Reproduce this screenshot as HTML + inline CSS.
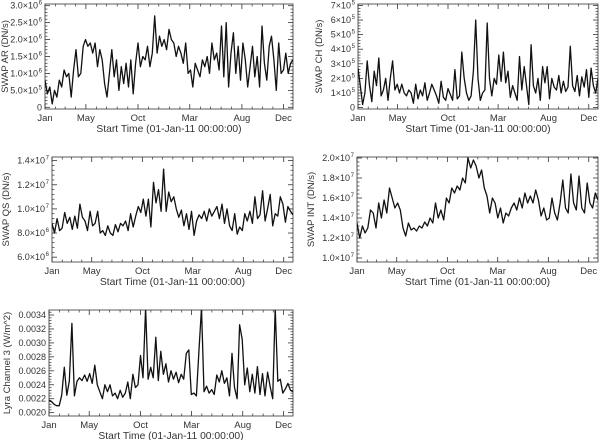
<!DOCTYPE html>
<html><head><meta charset="utf-8">
<style>
html,body{margin:0;padding:0;background:#fff;}
svg{display:block;font-family:"Liberation Sans",sans-serif;}
</style></head>
<body>
<svg id="chart" width="600" height="440" viewBox="0 0 600 440"></svg>
<script>
const xTickDays = [0, 120, 273, 425, 578, 700];
const xTickLabels = ["Jan", "May", "Oct", "Mar", "Aug", "Dec"];
const xMinorDays = [31,59,90,151,181,212,243,304,334,365,396,456,486,517,547,608,639,669];
const dayRange = [0, 728];

const arValues = [0.8,0.4,0.6,0.1,0.5,0.3,0.8,0.6,1.1,0.9,1.0,
0.3,1.1,1.7,0.9,1.0,1.8,2.0,
1.8,1.9,1.6,1.9,1.2,1.7,1.4,0.7,0.3,1.0,1.7,0.9,1.4,
0.5,1.2,0.7,1.3,0.6,1.4,0.4,1.3,
1.9,1.2,1.5,1.4,1.8,1.2,1.6,2.7,1.6,2.1,1.8,2.0,
1.7,2.3,2.0,1.9,1.5,1.8,1.6,1.3,1.9,1.0,
1.1,0.6,1.3,1.1,0.9,1.4,1.2,1.5,1.0,1.9,
1.4,1.6,1.1,2.4,0.9,2.5,0.6,1.6,2.2,1.0,1.8,0.8,
1.9,1.4,0.6,1.2,1.8,0.9,1.5,0.6,2.4,1.3,0.8,1.8,2.1,1.4,0.5,1.9,1.0,
1.1,1.6,1.0,1.3,1.4];
const chValues = [2.7,1.5,0.2,1.0,3.2,1.5,0.4,2.5,1.5,3.4,0.8,
1.2,2.0,0.5,2.0,3.2,1.2,1.6,1.0,1.6,1.0,
0.8,1.2,1.0,0.3,1.6,0.6,1.2,0.8,1.7,0.5,
1.0,1.6,1.2,0.8,0.3,1.8,0.7,0.5,1.3,0.9,
0.5,2.6,0.6,0.8,3.8,2.0,1.0,0.5,0.8,2.5,
6.0,2.0,0.5,1.0,1.2,5.8,2.0,0.8,2.0,1.6,
3.6,1.8,3.8,1.7,2.5,0.7,1.5,1.0,0.5,3.5,
1.2,2.8,1.5,0.2,4.3,1.5,1.0,2.0,0.5,2.8,
1.7,2.8,0.6,2.0,1.4,1.2,2.2,1.0,1.8,1.1,
1.4,4.2,1.5,1.1,2.2,0.8,2.1,1.4,2.6,0.7,2.7,1.5,1.0,2.0];
const qsValues = [8.8,8.0,9.2,8.2,8.4,9.7,8.8,9.3,8.3,9.4,8.4,
10.4,9.3,9.0,8.2,9.8,8.6,8.8,9.8,8.0,8.2,
7.8,8.6,8.0,7.8,8.7,8.1,8.8,8.6,9.0,8.2,
9.6,8.5,9.4,10.2,9.7,10.8,9.4,10.8,8.5,
12.2,10.5,11.6,9.8,13.3,9.8,11.4,10.6,11.0,10.0,
9.3,9.9,8.6,9.6,8.3,9.8,7.8,9.0,9.5,9.2,
9.8,9.0,10.0,9.4,9.8,10.2,9.2,10.4,8.8,10.0,
8.6,8.2,9.6,7.9,8.5,8.2,9.6,9.0,9.8,8.8,
11.0,9.2,9.5,11.5,9.0,10.0,11.2,8.6,9.6,9.4,
11.0,10.4,8.9,10.2,9.8,9.5];
const intValues = [1.35,1.20,1.32,1.25,1.30,1.48,1.45,1.30,1.55,1.40,1.58,
1.45,1.70,1.60,1.50,1.55,1.48,1.30,1.22,1.35,1.28,
1.30,1.27,1.32,1.30,1.36,1.32,1.40,1.35,1.55,1.40,
1.48,1.38,1.60,1.55,1.70,1.65,1.72,1.68,1.80,1.75,
2.00,1.90,1.98,1.92,1.80,1.88,1.70,1.62,1.45,1.60,
1.55,1.40,1.50,1.35,1.45,1.42,1.50,1.55,1.48,1.60,
1.50,1.65,1.55,1.62,1.55,1.68,1.58,1.42,1.50,1.38,
1.40,1.60,1.45,1.38,1.55,1.78,1.50,1.45,1.84,1.55,
1.48,1.82,1.50,1.45,1.75,1.55,1.50,1.65,1.58];
const lyraValues = [21.8,21.6,21.2,21.0,21.0,22.5,26.5,22.5,24.5,32.8,22.4,
24.5,25.0,24.6,25.4,24.5,25.6,24.2,26.8,24.0,23.0,
22.0,24.0,23.0,24.0,22.4,22.8,22.0,23.2,22.2,22.8,
24.4,22.0,25.5,23.6,24.0,28.2,25.0,35.0,24.8,26.5,
25.0,30.8,24.6,28.8,25.5,27.0,24.4,26.0,24.8,25.8,
24.3,25.5,24.8,28.5,29.0,22.6,22.8,22.4,29.0,35.0,
23.0,23.8,22.8,23.3,22.6,25.4,24.4,26.0,24.2,25.0,
22.4,28.5,23.6,22.0,32.6,30.5,24.0,26.4,23.0,25.5,
22.8,26.6,22.6,25.6,22.4,25.8,23.8,22.0,35.0,24.5,
24.8,22.8,23.4,24.2,23.2,23.0];

const arTicks = [0,0.5,1.0,1.5,2.0,2.5,3.0];
const arTickLabels = [["0",""],["5.0×10","5"],["1.0×10","6"],["1.5×10","6"],["2.0×10","6"],["2.5×10","6"],["3.0×10","6"]];
const chTicks = [0,1,2,3,4,5,6,7];
const chTickLabels = [["0",""],["1×10","5"],["2×10","5"],["3×10","5"],["4×10","5"],["5×10","5"],["6×10","5"],["7×10","5"]];
const qsTicks = [6,8,10,12,14];
const qsTickLabels = [["6.0×10","6"],["8.0×10","6"],["1.0×10","7"],["1.2×10","7"],["1.4×10","7"]];
const intTicks = [1.0,1.2,1.4,1.6,1.8,2.0];
const intTickLabels = [["1.0×10","7"],["1.2×10","7"],["1.4×10","7"],["1.6×10","7"],["1.8×10","7"],["2.0×10","7"]];
const lyraTicks = [20,22,24,26,28,30,32,34];
const lyraTickLabels = [["0.0020",""],["0.0022",""],["0.0024",""],["0.0026",""],["0.0028",""],["0.0030",""],["0.0032",""],["0.0034",""]];

const NS = "http://www.w3.org/2000/svg";
const svg = document.getElementById("chart");
function mk(tag, attrs, parent){
  const e = document.createElementNS(NS, tag);
  for (const k in attrs) e.setAttribute(k, attrs[k]);
  (parent||svg).appendChild(e);
  return e;
}
const C = "#333";

function panel(cfg){
  const g = mk("g", {});
  
  
  const {x0,x1,y0,y1,ymin,ymax} = cfg;
  const sx = d => x0 + (d - dayRange[0])/(dayRange[1]-dayRange[0])*(x1-x0);
  const sy = v => y1 - (v - ymin)/(ymax-ymin)*(y1-y0);
  const clip = mk("clipPath", {id:"clip-"+cfg.name}, g);
  mk("rect", {x:x0,y:y0,width:x1-x0,height:y1-y0}, clip);
  const frame = mk("rect", {x:x0,y:y0,width:x1-x0,height:y1-y0,fill:"none",stroke:C,"stroke-width":0.8}, g);
  
  
  xTickDays.forEach((d,i)=>{
    const x = sx(d);
    mk("line",{x1:x,x2:x,y1:y1,y2:y1-5,stroke:C,"stroke-width":0.8},g);
    mk("line",{x1:x,x2:x,y1:y0,y2:y0+5,stroke:C,"stroke-width":0.8},g);
    const t = mk("text",{x:x,y:y1+12,"font-size":9.5,fill:C,"text-anchor":"middle"},g);
    t.textContent = xTickLabels[i];
    
    
  });
  xMinorDays.forEach(d=>{
    const x = sx(d);
    mk("line",{x1:x,x2:x,y1:y1,y2:y1-2.5,stroke:C,"stroke-width":0.7},g);
    mk("line",{x1:x,x2:x,y1:y0,y2:y0+2.5,stroke:C,"stroke-width":0.7},g);
  });
  const xt = mk("text",{x:(x0+x1)/2,y:y1+23,"font-size":10.3,fill:C,"text-anchor":"middle"},g);
  xt.textContent = "Start Time (01-Jan-11 00:00:00)";
  
  
  const step = cfg.ticks[1]-cfg.ticks[0];
  cfg.ticks.forEach((v,i)=>{
    const y = sy(v);
    mk("line",{x1:x0,x2:x0+5,y1:y,y2:y,stroke:C,"stroke-width":0.8},g);
    mk("line",{x1:x1,x2:x1-5,y1:y,y2:y,stroke:C,"stroke-width":0.8},g);
    for (let k=1;k<5;k++){
      const vv = v + step*k/5;
      if (vv>ymax) break;
      const yy = sy(vv);
      mk("line",{x1:x0,x2:x0+2.5,y1:yy,y2:yy,stroke:C,"stroke-width":0.7},g);
      mk("line",{x1:x1,x2:x1-2.5,y1:yy,y2:yy,stroke:C,"stroke-width":0.7},g);
    }
    const t = mk("text",{x:x0-3-(cfg.tickLabels[i][1]?4:0),y:y+3,"font-size":9,fill:C,"text-anchor":"end"},g);
    
    
    t.textContent = cfg.tickLabels[i][0];
    if (cfg.tickLabels[i][1]){
      const s = mk("text",{x:x0-3,y:y-1,"font-size":6,fill:C,"text-anchor":"end"},g);
      s.textContent = cfg.tickLabels[i][1];
    }
  });
  const yt = mk("text",{x:0,y:0,"font-size":9.5,fill:C,"text-anchor":"middle",transform:`translate(${cfg.titleX},${(y0+y1)/2}) rotate(-90)`},g);
  yt.textContent = cfg.title;
  
  
  const vals = cfg.values, n = vals.length;
  const pts = vals.map((v,i)=>{
    const d = dayRange[0] + i*(dayRange[1]-dayRange[0])/(n-1);
    return sx(d).toFixed(1)+","+sy(v).toFixed(1);
  }).join(" ");
  const line = mk("polyline",{points:pts,fill:"none",stroke:"#111","stroke-width":1.3,"stroke-linejoin":"round","clip-path":`url(#clip-${cfg.name})`},g);
  
  
}

panel({name:"swap-ar-panel",x0:45,x1:293,y0:4,y1:109,ymin:-0.05,ymax:3.05,ticks:arTicks,tickLabels:arTickLabels,values:arValues,title:"SWAP AR (DN/s)",titleX:8});
panel({name:"swap-ch-panel",x0:358,x1:598,y0:4,y1:109,ymin:-0.1,ymax:7.1,ticks:chTicks,tickLabels:chTickLabels,values:chValues,title:"SWAP CH (DN/s)",titleX:322});
panel({name:"swap-qs-panel",x0:52,x1:293,y0:157,y1:262,ymin:5.6,ymax:14.3,ticks:qsTicks,tickLabels:qsTickLabels,values:qsValues,title:"SWAP QS (DN/s)",titleX:9});
panel({name:"swap-int-panel",x0:357,x1:598,y0:157,y1:262,ymin:0.96,ymax:2.01,ticks:intTicks,tickLabels:intTickLabels,values:intValues,title:"SWAP INT (DN/s)",titleX:314});
panel({name:"lyra-channel3-panel",x0:49,x1:293,y0:310,y1:416,ymin:19.52,ymax:34.72,ticks:lyraTicks,tickLabels:lyraTickLabels,values:lyraValues,title:"Lyra Channel 3 (W/m^2)",titleX:10});
</script>
</body></html>
